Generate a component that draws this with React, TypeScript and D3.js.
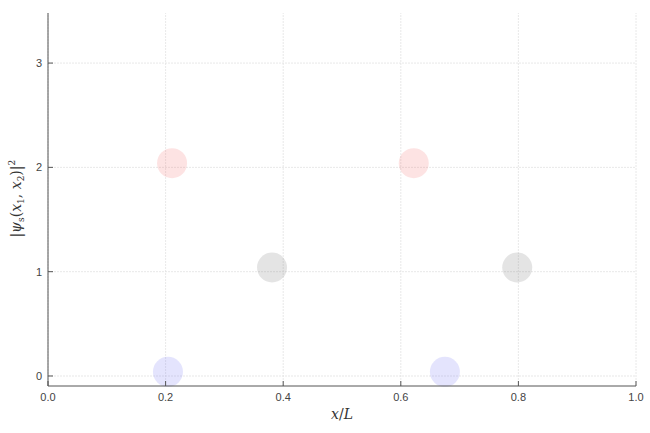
import React from 'react';
import * as d3 from 'd3';

interface Dot {
  x: number;
  y: number;
  color: string;
}

const xTicks = [0, 0.2, 0.4, 0.6, 0.8, 1.0];
const yTicks = [0, 1, 2, 3];

const redX = [0.211, 0.622];
const redY = [2.04, 2.04];
const grayX = [0.381, 0.798];
const grayY = [1.04, 1.04];
const blueX = [0.204, 0.675];
const blueY = [0.04, 0.04];

const width = 650;
const height = 433;
const margin = { top: 13, right: 14, bottom: 47, left: 48 };

const App: React.FC = () => {
  const xScale = d3.scaleLinear().domain([0, 1]).range([margin.left, width - margin.right]);
  const yScale = d3.scaleLinear().domain([-0.096, 3.48]).range([height - margin.bottom, margin.top]);

  const dots: Dot[] = [
    ...redX.map((x, i) => ({ x, y: redY[i], color: 'rgba(240, 80, 80, 0.16)' })),
    ...grayX.map((x, i) => ({ x, y: grayY[i], color: 'rgba(120, 120, 120, 0.2)' })),
    ...blueX.map((x, i) => ({ x, y: blueY[i], color: 'rgba(90, 90, 240, 0.16)' })),
  ];

  const x0 = xScale.range()[0];
  const x1 = xScale.range()[1];
  const y0 = yScale.range()[0];
  const y1 = yScale.range()[1];
  const tickFont = 'Helvetica, "Liberation Sans", Arial, sans-serif';
  const mathFont = '"DejaVu Serif", "Liberation Serif", serif';

  return (
    <svg width={width} height={height} style={{ position: 'absolute', left: 0, top: 0 }}>
      <rect width={width} height={height} fill="#fff" />
      {/* grid */}
      <g stroke="#e2e2e2" strokeWidth={0.8} strokeDasharray="2,1">
        {xTicks.map(t => (
          <line key={'gx' + t} x1={xScale(t)} x2={xScale(t)} y1={y0} y2={y1} />
        ))}
        {yTicks.map(t => (
          <line key={'gy' + t} x1={x0} x2={x1} y1={yScale(t)} y2={yScale(t)} />
        ))}
      </g>
      {/* points */}
      {dots.map((d, i) => (
        <circle key={i} cx={xScale(d.x)} cy={yScale(d.y)} r={15} fill={d.color} />
      ))}
      {/* spines */}
      <g stroke="#555" strokeWidth={1}>
        <line x1={x0} x2={x0} y1={y1} y2={y0} />
        <line x1={x0} x2={x1} y1={y0} y2={y0} />
        {xTicks.map(t => (
          <line key={'tx' + t} x1={xScale(t)} x2={xScale(t)} y1={y0} y2={y0 - 5} />
        ))}
        {yTicks.map(t => (
          <line key={'ty' + t} x1={x0} x2={x0 + 5} y1={yScale(t)} y2={yScale(t)} />
        ))}
      </g>
      {/* tick labels */}
      <g fontFamily={tickFont} fontSize={11} fill="#444">
        {xTicks.map(t => (
          <text key={'lx' + t} x={xScale(t)} y={y0 + 15} textAnchor="middle">
            {d3.format('.1f')(t)}
          </text>
        ))}
        {yTicks.map(t => (
          <text key={'ly' + t} x={x0 - 6} y={yScale(t) + 4} textAnchor="end">
            {t}
          </text>
        ))}
      </g>
      {/* axis labels */}
      <text x={(x0 + x1) / 2} y={419} textAnchor="middle" fontFamily={mathFont} fontSize={14} fill="#333">
        <tspan fontStyle="italic">x</tspan>/<tspan fontStyle="italic">L</tspan>
      </text>
      <text
        transform={`translate(21, ${yScale(1.7)}) rotate(-90)`}
        textAnchor="middle"
        fontFamily={mathFont}
        fontSize={14}
        fill="#333"
      >
        |<tspan fontStyle="italic">ψ</tspan>
        <tspan fontSize={9} dy={3}>s</tspan>
        <tspan dy={-3}>(</tspan>
        <tspan fontStyle="italic">x</tspan>
        <tspan fontSize={9} dy={3}>1</tspan>
        <tspan dy={-3}>, </tspan>
        <tspan fontStyle="italic">x</tspan>
        <tspan fontSize={9} dy={3}>2</tspan>
        <tspan dy={-3}>)|</tspan>
        <tspan fontSize={9} dy={-6}>2</tspan>
      </text>
    </svg>
  );
};

export default App;
